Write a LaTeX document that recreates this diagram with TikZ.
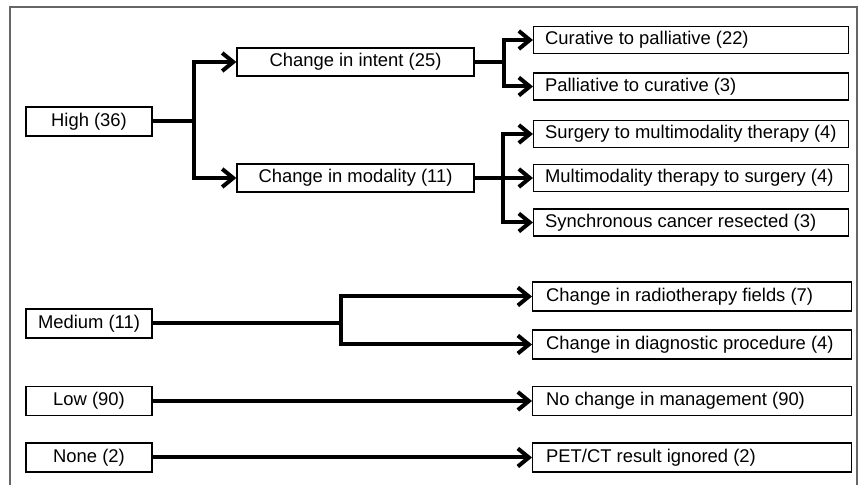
\documentclass[tikz,border=0pt]{standalone}
\usepackage{fontspec}
\setmainfont{Liberation Sans}
\usetikzlibrary{arrows.meta}
\newcommand{\lefttxt}[1]{\makebox[146pt][l]{#1}}
\begin{document}
\begin{tikzpicture}[x=0.5pt,y=-0.5pt,
  font=\fontsize{9.2pt}{11pt}\selectfont,
  lbox/.style={draw=black,line width=0.65pt,inner sep=0pt,minimum width=63pt,minimum height=14.5pt,align=center},
  mbox/.style={draw=black,line width=0.65pt,inner sep=0pt,minimum width=118.5pt,minimum height=14pt,align=center},
  rbox/.style={draw=black,line width=0.65pt,inner xsep=5.5pt,inner ysep=0pt,minimum width=157.5pt,minimum height=13.5pt,anchor=west},
  wbox/.style={rbox,minimum width=159.5pt,minimum height=14.5pt},
  link/.style={line width=2pt,line join=miter},
  arr/.style={link,-{Straight Barb[length=5.5pt,width=9pt]}}]
\useasboundingbox (0,0) rectangle (868,485);
\draw[line width=0.75pt,draw=black!60] (10,487) -- (10,7) -- (857,7) -- (857,487);
% left boxes
\node[lbox] (high) at (89,121.5) {High (36)};
\node[lbox] (medium) at (89,323.5) {Medium (11)};
\node[lbox] (low) at (89,401) {Low (90)};
\node[lbox] (none) at (89,457.5) {None (2)};
% middle boxes
\node[mbox] (intent) at (355.5,62) {Change in intent (25)};
\node[mbox] (modality) at (355.5,178) {Change in modality (11)};
% right boxes
\node[rbox] (cur) at (533,40) {\lefttxt{Curative to palliative (22)}};
\node[rbox] (pal) at (533,86.5) {\lefttxt{Palliative to curative (3)}};
\node[rbox] (sur) at (533,134) {\lefttxt{Surgery to multimodality therapy (4)}};
\node[rbox] (mul) at (533,178) {\lefttxt{Multimodality therapy to surgery (4)}};
\node[rbox] (syn) at (533,222.5) {\lefttxt{Synchronous cancer resected (3)}};
\node[wbox] (rad) at (532,296.5) {\lefttxt{Change in radiotherapy fields (7)}};
\node[wbox] (dia) at (532,344.5) {\lefttxt{Change in diagnostic procedure (4)}};
\node[wbox] (noc) at (532,401) {\lefttxt{No change in management (90)}};
\node[wbox] (pet) at (532,457.5) {\lefttxt{PET/CT result ignored (2)}};
% junctions
\coordinate (jH) at (194,121.5);
\coordinate (jI) at (504,62);
\coordinate (jM) at (503,178);
\coordinate (jD) at (341,323.5);
% connectors
\draw[link] (high.east) -- (jH);
\draw[arr] (jH) |- (intent.west);
\draw[arr] (jH) |- (modality.west);
\draw[link] (intent.east) -- (jI);
\draw[arr] (jI) |- (cur.west);
\draw[arr] (jI) |- (pal.west);
\draw[arr] (modality.east) -- (mul.west);
\draw[arr] (jM) |- (sur.west);
\draw[arr] (jM) |- (syn.west);
\draw[link] (medium.east) -- (jD);
\draw[arr] (jD) |- (rad.west);
\draw[arr] (jD) |- (dia.west);
\draw[arr] (low.east) -- (noc.west);
\draw[arr] (none.east) -- (pet.west);
\end{tikzpicture}
\end{document}
